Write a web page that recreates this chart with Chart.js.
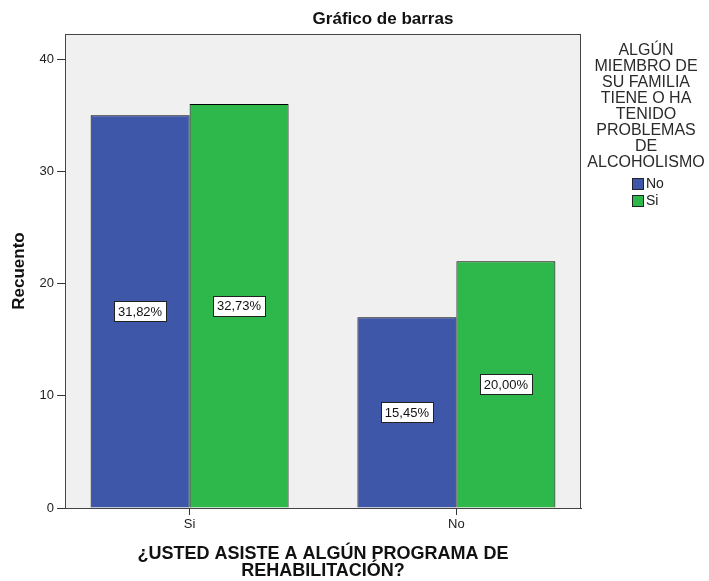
<!DOCTYPE html>
<html>
<head>
<meta charset="utf-8">
<script src="https://cdn.jsdelivr.net/npm/chart.js@4/dist/chart.umd.min.js"></script>
<style>
  html, body { margin: 0; padding: 0; background: #ffffff; }
  #wrap { width: 709px; height: 581px; }
</style>
</head>
<body>
<div id="wrap"><canvas id="c" width="709" height="581"></canvas></div>
<script>
const categories = ['Si', 'No'];
const seriesNames = ['No', 'Si'];
const countsNo = [35, 17];
const countsSi = [36, 22];
const pctNo = ['31,82%', '15,45%'];
const pctSi = ['32,73%', '20,00%'];
const yTickValues = [0, 10, 20, 30, 40];
const chartTitle = 'Gráfico de barras';
const yTitle = 'Recuento';
const xTitle = ['¿USTED ASISTE A ALGÚN PROGRAMA DE', 'REHABILITACIÓN?'];
const legendTitle = ['ALGÚN', 'MIEMBRO DE', 'SU FAMILIA', 'TIENE O HA', 'TENIDO', 'PROBLEMAS', 'DE', 'ALCOHOLISMO'];

const FONT = '"Liberation Sans", Arial, sans-serif';
const colors = ['#3f57a9', '#2eb84b'];

const plotFrame = {
  id: 'plotFrame',
  beforeDraw(chart) {
    const a = chart.chartArea, ctx = chart.ctx;
    ctx.save();
    ctx.fillStyle = '#f0f0f0';
    ctx.fillRect(a.left, a.top, a.right - a.left, a.bottom - a.top);
    ctx.restore();
  },
  afterDraw(chart) {
    const a = chart.chartArea, ctx = chart.ctx;
    ctx.save();
    ctx.strokeStyle = '#444444';
    ctx.lineWidth = 1;
    ctx.strokeRect(Math.round(a.left) + 0.5, Math.round(a.top) + 0.5,
                   Math.round(a.right - a.left) - 1, Math.round(a.bottom - a.top));
    // title
    ctx.fillStyle = '#111';
    ctx.font = 'bold 17px ' + FONT;
    ctx.textAlign = 'center';
    ctx.textBaseline = 'middle';
    ctx.fillText(chartTitle, 383, 19);
    // legend
    ctx.font = '16px ' + FONT;
    ctx.fillStyle = '#2a2a2a';
    legendTitle.forEach((t, i) => ctx.fillText(t, 646, 51 + i * 15.9));
    chart.data.datasets.forEach((ds, i) => {
      const y = 178 + i * 17;
      ctx.fillStyle = ds.backgroundColor;
      ctx.fillRect(632, y, 12, 12);
      ctx.strokeStyle = '#222';
      ctx.strokeRect(632.5, y + 0.5, 11, 11);
      ctx.fillStyle = '#222';
      ctx.font = '14px ' + FONT;
      ctx.textAlign = 'left';
      ctx.fillText(ds.label, 646, y + 6.5);
    });
    ctx.restore();
  },
  afterDatasetsDraw(chart) {
    const ctx = chart.ctx;
    ctx.save();
    ctx.font = '13px ' + FONT;
    ctx.textAlign = 'center';
    ctx.textBaseline = 'middle';
    chart.data.datasets.forEach((ds, di) => {
      const meta = chart.getDatasetMeta(di);
      meta.data.forEach((bar, i) => {
        const txt = ds.pctLabels[i];
        const cx = bar.x;
        const cy = (bar.y + bar.base) / 2;
        const w = ctx.measureText(txt).width + 8;
        const h = 20;
        const x0 = Math.round(cx - w / 2) + 0.5, y0 = Math.round(cy - h / 2) + 0.5;
        ctx.fillStyle = '#ffffff';
        ctx.fillRect(x0, y0, Math.round(w), h);
        ctx.strokeStyle = '#222';
        ctx.lineWidth = 1;
        ctx.strokeRect(x0, y0, Math.round(w), h);
        ctx.fillStyle = '#111';
        ctx.fillText(txt, cx, cy + 1);
      });
    });
    ctx.restore();
  }
};

new Chart(document.getElementById('c'), {
  type: 'bar',
  data: {
    datasets: [
      { label: seriesNames[0], data: countsNo.map((v, i) => ({ x: i, y: v })), pctLabels: pctNo,
        backgroundColor: colors[0], borderColor: '#000000', borderWidth: 1,
        categoryPercentage: 0.742, barPercentage: 1 },
      { label: seriesNames[1], data: countsSi.map((v, i) => ({ x: i, y: v })), pctLabels: pctSi,
        backgroundColor: colors[1], borderColor: '#000000', borderWidth: 1,
        categoryPercentage: 0.742, barPercentage: 1 }
    ]
  },
  options: {
    responsive: false,
    animation: false,
    layout: { padding: { top: 34, right: 128, left: 0, bottom: 0 } },
    plugins: { legend: { display: false }, tooltip: { enabled: false }, title: { display: false } },
    scales: {
      x: {
        type: 'linear',
        offset: false,
        min: -0.467,
        max: 1.467,
        afterBuildTicks: s => { s.ticks = categories.map((_, i) => ({ value: i })); },
        afterFit: s => { s.height = 73; },
        ticks: {
          callback: v => categories[v],
          font: { family: FONT, size: 13 },
          color: '#222',
          padding: 2,
          maxRotation: 0
        },
        grid: { display: true, drawOnChartArea: false, drawTicks: true, tickLength: 7, offset: false, color: '#333' },
        border: { display: true, color: '#444' },
        title: {
          display: true,
          text: xTitle,
          font: { family: FONT, size: 18, weight: 'bold', lineHeight: 0.95 },
          color: '#111',
          padding: { top: 0, bottom: 1 }
        }
      },
      y: {
        min: 0,
        max: 42.25,
        afterBuildTicks: s => { s.ticks = yTickValues.map(v => ({ value: v })); },
        afterFit: s => { s.width = 65; },
        ticks: { font: { family: FONT, size: 13 }, color: '#222', padding: 3 },
        grid: { display: true, drawOnChartArea: false, drawTicks: true, tickLength: 8, color: '#333' },
        border: { display: true, color: '#444' },
        title: {
          display: true,
          text: yTitle,
          font: { family: FONT, size: 17, weight: 'bold', lineHeight: 1.2 },
          color: '#111',
          padding: { top: 9, bottom: 0 }
        }
      }
    }
  },
  plugins: [plotFrame]
});
</script>
</body>
</html>
